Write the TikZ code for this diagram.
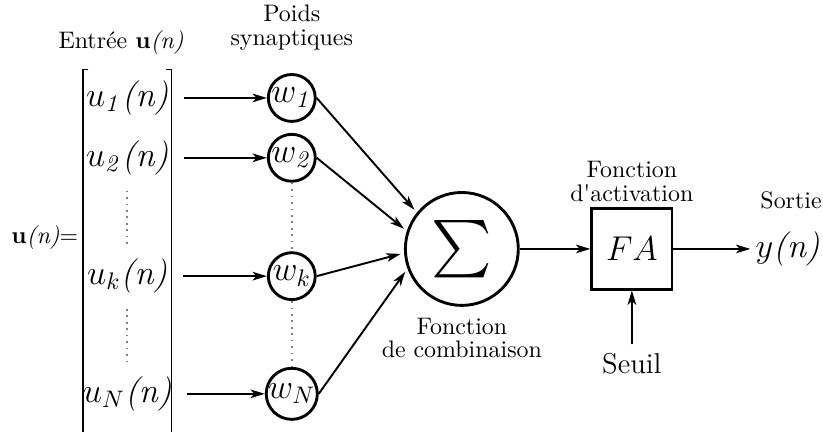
\documentclass[tikz,border=0pt]{standalone}
\usepackage{amsmath}
\usepackage{amssymb}
\usetikzlibrary{arrows.meta}

\begin{document}
\begin{tikzpicture}[
  fleche/.style={-{Stealth[length=6pt,width=3.6pt,inset=1.6pt]},line width=0.8pt},
  poids/.style={draw,circle,line width=1.2pt,minimum size=0.69cm,inner sep=0pt,font=\Large},
  entree/.style={font=\Large},
  pointille/.style={dotted,gray,line width=0.7pt}
]
\useasboundingbox (0,0) rectangle (12.1,6.35);
\node at (1.78,5.73) {Entr\'ee $\mathbf{u}$\textit{(n)}};
\node[align=center] at (4.29,5.94) {Poids\\[-2pt]synaptiques};
\node at (0.66,2.86) {$\mathbf{u}$\textit{(n)}$=$};
% crochets
\draw[line width=0.6pt] (1.30,5.33) -- (1.22,5.33) -- (1.22,-0.1);
\draw[line width=0.6pt] (2.44,5.33) -- (2.52,5.33) -- (2.52,-0.1);
\node[entree] (u1) at (1.87,4.91) {$u_{\mathit{1}}$\textit{(n)}};
\node[entree] (u2) at (1.87,4.03) {$u_{\mathit{2}}$\textit{(n)}};
\node[entree] (uk) at (1.87,2.29) {$u_k$\textit{(n)}};
\node[entree] (uN) at (1.87,0.56) {$u_N$\textit{(n)}};
\draw[pointille, shorten <=3pt, shorten >=1pt] (u2) -- (uk);
\draw[pointille, shorten <=3pt, shorten >=1pt] (uk) -- (uN);
% poids
\node[poids] (w1) at (4.29,4.91) {$w_{\mathit{1}}$};
\node[poids] (w2) at (4.29,4.03) {$w_{\mathit{2}}$};
\node[poids] (wk) at (4.29,2.29) {$w_k$};
\node[poids] (wN) at (4.29,0.56) {$w_N$};
\draw[pointille] (w2) -- (wk);
\draw[pointille] (wk) -- (wN);
\draw[fleche, shorten <=3pt] (u1) -- (w1);
\draw[fleche, shorten <=3pt] (u2) -- (w2);
\draw[fleche, shorten <=3pt] (uk) -- (wk);
\draw[fleche, shorten <=3pt] (uN) -- (wN);
% combinaison
\node[draw,circle,line width=1.2pt,minimum size=1.66cm,inner sep=0pt] (somme) at (6.79,2.69) {\fontsize{24}{28}\selectfont$\sum$};
\draw[fleche, shorten >=1.5pt] (w1.east) -- (somme.141);
\draw[fleche, shorten >=1.5pt] (w2.east) -- (somme.162);
\draw[fleche, shorten >=1.5pt] (wk.east) -- (somme.184);
\draw[fleche, shorten >=1.5pt] (wN.east) -- (somme.200);
\node[align=center] [below] at (6.79,1.79) {Fonction\\[-2.4pt]de combinaison};
% activation
\node[draw,line width=1.2pt,minimum size=1.18cm] (fa) at (9.29,2.69) {\Large$FA$};
\node[align=center] [above] at (9.29,3.26) {Fonction\\[-2pt]d\textquotesingle activation};
\draw[fleche] (somme) -- (fa);
\node[font=\large] (seuil) at (9.29,1.01) {Seuil};
\draw[fleche] (seuil) -- (fa);
\node[inner sep=2pt] (y) at (11.58,2.69) {\Large$y$\textit{(n)}};
\draw[fleche] (fa) -- (y);
\node[anchor=base] at (11.63,3.28) {Sortie};

\end{tikzpicture}
\end{document}
